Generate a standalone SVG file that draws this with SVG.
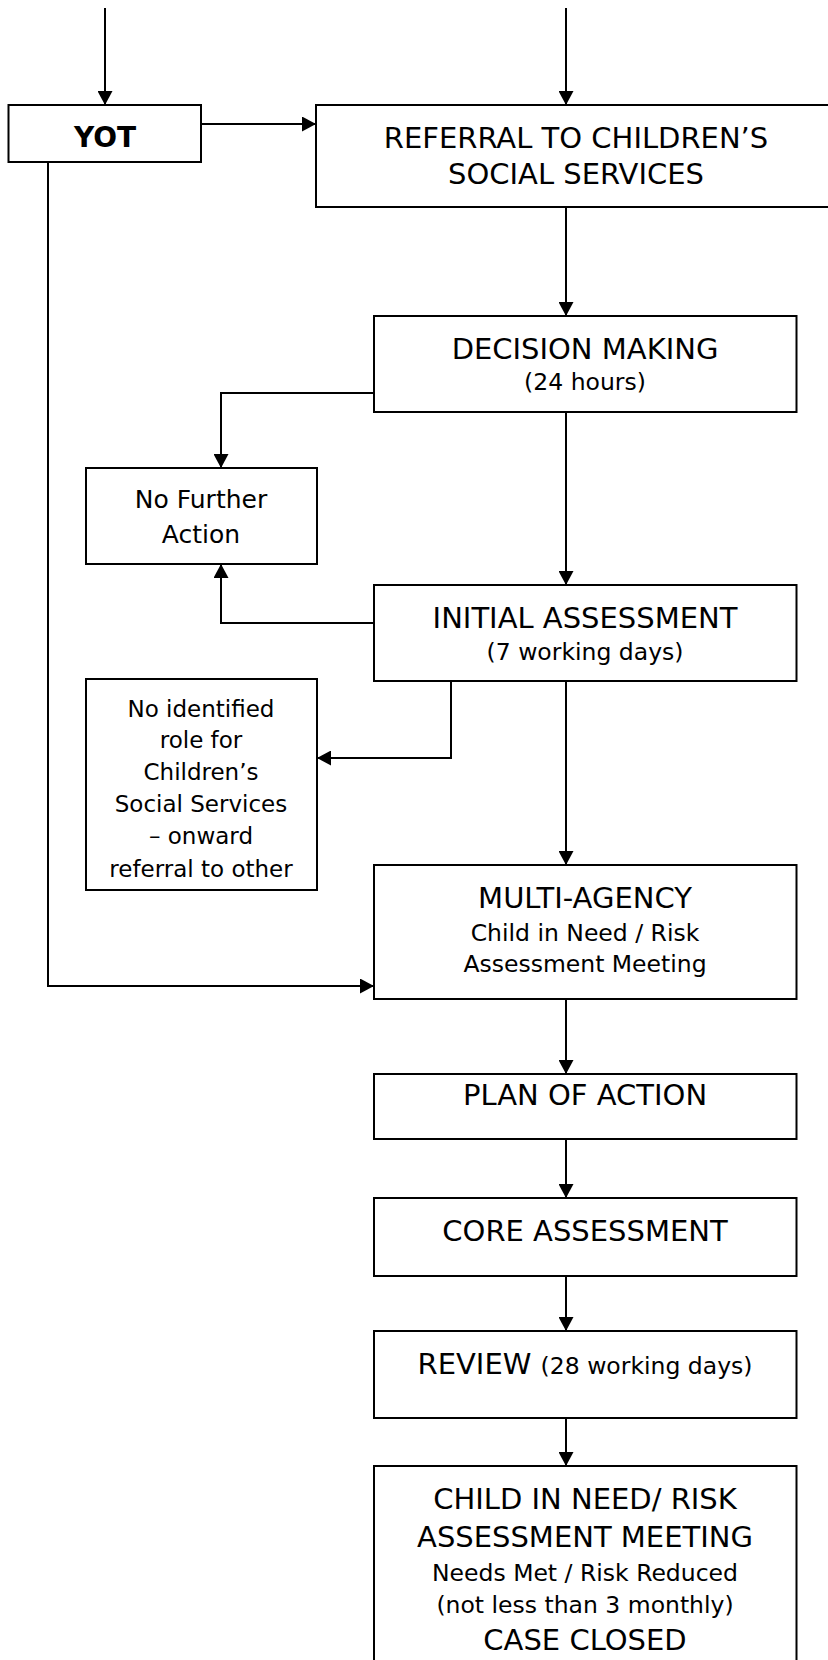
<svg xmlns="http://www.w3.org/2000/svg" width="828" height="1660" viewBox="0 0 828 1660">
<style>
.box{fill:#fff;stroke:#000;stroke-width:2}
.ln{fill:none;stroke:#000;stroke-width:2}
text{font-family:"DejaVu Sans","Liberation Sans",sans-serif;fill:#000;text-anchor:middle}
.big{font-size:29px}
.sm{font-size:23.5px}
.nfa{font-size:25px}
.nir{font-size:23px}
.yot{font-size:28px;font-weight:bold}
</style>
<defs>
<marker id="ah" viewBox="0 0 14 15" refX="14" refY="7.5" markerWidth="14" markerHeight="15" markerUnits="userSpaceOnUse" orient="auto">
<path d="M0,0 L14,7.5 L0,15 z" fill="#000"/>
</marker>
</defs>
<rect width="828" height="1660" fill="#fff"/>
<g id="connectors">
<line class="ln" x1="105" y1="8" x2="105" y2="105" marker-end="url(#ah)"/>
<line class="ln" x1="566" y1="8" x2="566" y2="105" marker-end="url(#ah)"/>
<line class="ln" x1="201" y1="124" x2="316" y2="124" marker-end="url(#ah)"/>
<line class="ln" x1="566" y1="207" x2="566" y2="316" marker-end="url(#ah)"/>
<polyline class="ln" points="374,393 221,393 221,468" marker-end="url(#ah)"/>
<line class="ln" x1="566" y1="412" x2="566" y2="585" marker-end="url(#ah)"/>
<polyline class="ln" points="374,623 221,623 221,564" marker-end="url(#ah)"/>
<polyline class="ln" points="451,681 451,758 317,758" marker-end="url(#ah)"/>
<line class="ln" x1="566" y1="681" x2="566" y2="865" marker-end="url(#ah)"/>
<polyline class="ln" points="48,162 48,986 374,986" marker-end="url(#ah)"/>
<line class="ln" x1="566" y1="999" x2="566" y2="1074" marker-end="url(#ah)"/>
<line class="ln" x1="566" y1="1139" x2="566" y2="1198" marker-end="url(#ah)"/>
<line class="ln" x1="566" y1="1276" x2="566" y2="1331" marker-end="url(#ah)"/>
<line class="ln" x1="566" y1="1418" x2="566" y2="1466" marker-end="url(#ah)"/>
</g>
<g id="yot">
<rect class="box" x="8.5" y="105" width="192.5" height="57"/>
<text class="yot" x="105" y="147">YOT</text>
</g>
<g id="referral">
<rect class="box" x="316" y="105" width="530" height="102"/>
<text class="big" x="576" y="148">REFERRAL TO CHILDREN’S</text>
<text class="big" x="576" y="184">SOCIAL SERVICES</text>
</g>
<g id="decision">
<rect class="box" x="374" y="316" width="422.5" height="96"/>
<text class="big" x="585" y="359">DECISION MAKING</text>
<text class="sm" x="585" y="390">(24 hours)</text>
</g>
<g id="nfa">
<rect class="box" x="86" y="468" width="231" height="96"/>
<text class="nfa" x="201" y="508">No Further</text>
<text class="nfa" x="201" y="543">Action</text>
</g>
<g id="initial">
<rect class="box" x="374" y="585" width="422.5" height="96"/>
<text class="big" x="585" y="628">INITIAL ASSESSMENT</text>
<text class="sm" x="585" y="660">(7 working days)</text>
</g>
<g id="noRole">
<rect class="box" x="86" y="679" width="231" height="211"/>
<text class="nir" x="201" y="717">No identified</text>
<text class="nir" x="201" y="748">role for</text>
<text class="nir" x="201" y="780">Children’s</text>
<text class="nir" x="201" y="812">Social Services</text>
<text class="nir" x="201" y="844">– onward</text>
<text class="nir" x="201" y="877">referral to other</text>
</g>
<g id="multi">
<rect class="box" x="374" y="865" width="422.5" height="134"/>
<text class="big" x="585" y="908">MULTI-AGENCY</text>
<text class="sm" x="585" y="941">Child in Need / Risk</text>
<text class="sm" x="585" y="972">Assessment Meeting</text>
</g>
<g id="plan">
<rect class="box" x="374" y="1074" width="422.5" height="65"/>
<text class="big" x="585" y="1105">PLAN OF ACTION</text>
</g>
<g id="core">
<rect class="box" x="374" y="1198" width="422.5" height="78"/>
<text class="big" x="585" y="1241">CORE ASSESSMENT</text>
</g>
<g id="review">
<rect class="box" x="374" y="1331" width="422.5" height="87"/>
<text x="585" y="1374"><tspan class="big">REVIEW </tspan><tspan class="sm">(28 working days)</tspan></text>
</g>
<g id="closed">
<rect class="box" x="374" y="1466" width="422.5" height="220"/>
<text class="big" x="585" y="1509">CHILD IN NEED/ RISK</text>
<text class="big" x="585" y="1547">ASSESSMENT MEETING</text>
<text class="sm" x="585" y="1581">Needs Met / Risk Reduced</text>
<text class="sm" x="585" y="1613">(not less than 3 monthly)</text>
<text class="big" x="585" y="1650">CASE CLOSED</text>
</g>
</svg>
